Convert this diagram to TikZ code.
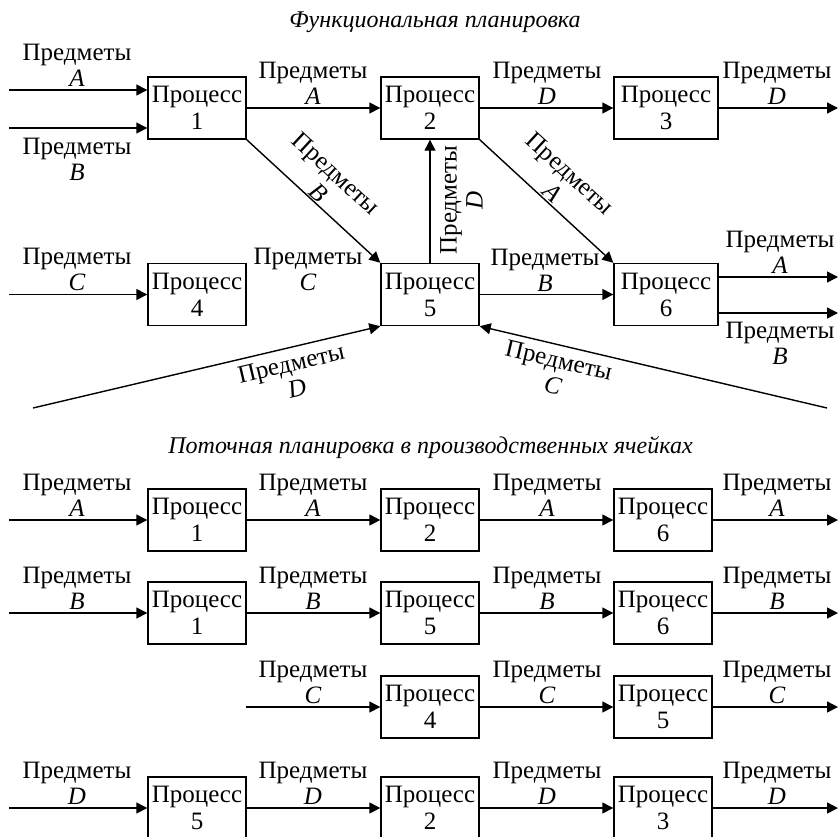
\documentclass[tikz,border=0pt]{standalone}
\usepackage{fontspec}
\setmainfont{Liberation Serif}
\usetikzlibrary{arrows.meta}
\begin{document}
\begin{tikzpicture}[x=1pt,y=-1pt,
  box/.style={draw, line width=1.4pt, minimum width=98pt, minimum height=62pt, inner sep=0pt, align=center, font=\fontsize{25}{27}\selectfont},
  wbox/.style={box, minimum width=104pt},
  lbl/.style={align=center, inner sep=0pt, font=\fontsize{25}{26}\selectfont},
  arr/.style={line width=1.4pt, -{Triangle[length=11pt,width=11pt]}},
  ttl/.style={font=\fontsize{24}{26}\selectfont\itshape, inner sep=0pt}]
\useasboundingbox (0,0) rectangle (840,836);
% titles
\node[ttl] (t1) at (435,22) {Функциональная планировка};
\node[ttl] (t2) at (430.5,448) {Поточная планировка в производственных ячейках};
% ---- functional layout
\node[box] (a1) at (197,108) {Процесс\\1};
\node[box] (a2) at (430,108) {Процесс\\2};
\node[wbox] (a3) at (666,108) {Процесс\\3};
\node[box] (a4) at (197,294.5) {Процесс\\4};
\node[box] (a5) at (430,294.5) {Процесс\\5};
\node[wbox] (a6) at (666,294.5) {Процесс\\6};
\coordinate (inA) at (9,90);
\coordinate (inB) at (9,128);
\coordinate (inC) at (9,294.5);
\coordinate (out3) at (838,108);
\coordinate (out6a) at (838,277);
\coordinate (out6b) at (838,313);
\coordinate (dstart) at (33,408);
\coordinate (cstart) at (827,408);
\draw[arr] (inA) -- (inA -| a1.west);
\draw[arr] (inB) -- (inB -| a1.west);
\draw[arr] (inC) -- (a4.west);
\draw[arr] (a1.east) -- (a2.west);
\draw[arr] (a2.east) -- (a3.west);
\draw[arr] (a3.east) -- (out3);
\draw[arr] (a1.south east) -- (a5.north west);
\draw[arr] (a2.south east) -- (a6.north west);
\draw[arr] (a5.north) -- (a2.south);
\draw[arr] (a5.east) -- (a6.west);
\draw[arr] (out6a -| a6.east) -- (out6a);
\draw[arr] (out6b -| a6.east) -- (out6b);
\draw[arr] (dstart) -- (a5.south west);
\draw[arr] (cstart) -- (a5.south east);
\node[lbl, anchor=south] (lA1) at (77,87) {Предметы\\\textit{A}};
\node[lbl, anchor=north] (lB1) at (77,138) {Предметы\\\textit{B}};
\node[lbl, anchor=south] (l12) at (313,105) {Предметы\\\textit{A}};
\node[lbl, anchor=south] (l23) at (547,105) {Предметы\\\textit{D}};
\node[lbl, anchor=south] (l3o) at (777,105) {Предметы\\\textit{D}};
\node[lbl, anchor=south] (lC4) at (77,291) {Предметы\\\textit{C}};
\node[lbl, anchor=south] (lC45) at (308,291) {Предметы\\\textit{C}};
\node[lbl, anchor=south] (l56) at (545,292) {Предметы\\\textit{B}};
\node[lbl, anchor=south] (l6A) at (780,274) {Предметы\\\textit{A}};
\node[lbl, anchor=north] (l6B) at (780,322) {Предметы\\\textit{B}};
\node[lbl, rotate=-42.8] (l15) at (327.5,183) {Предметы\\\textit{B}};
\node[lbl, rotate=-42.4] (l26) at (561.5,183) {Предметы\\\textit{A}};
\node[lbl, rotate=90] (l52) at (461.5,200) {Предметы\\\textit{D}};
\node[lbl, rotate=13.3] (lD5) at (294,376) {Предметы\\\textit{D}};
\node[lbl, rotate=-13.2] (lC5) at (556,373) {Предметы\\\textit{C}};
% ---- cellular layout
\node[box] (b11) at (197,520) {Процесс\\1};
\node[box] (b12) at (430,520) {Процесс\\2};
\node[box] (b13) at (663,520) {Процесс\\6};
\node[box] (b21) at (197,613) {Процесс\\1};
\node[box] (b22) at (430,613) {Процесс\\5};
\node[box] (b23) at (663,613) {Процесс\\6};
\node[box] (b32) at (430,707) {Процесс\\4};
\node[box] (b33) at (663,707) {Процесс\\5};
\node[box] (b41) at (197,808) {Процесс\\5};
\node[box] (b42) at (430,808) {Процесс\\2};
\node[box] (b43) at (663,808) {Процесс\\3};
\coordinate (r1in) at (9,520);
\coordinate (r2in) at (9,613);
\coordinate (r3in) at (246,707);
\coordinate (r4in) at (9,808);
\coordinate (r1out) at (838,520);
\coordinate (r2out) at (838,613);
\coordinate (r3out) at (838,707);
\coordinate (r4out) at (838,808);
\draw[arr] (r1in) -- (b11.west);
\draw[arr] (b11.east) -- (b12.west);
\draw[arr] (b12.east) -- (b13.west);
\draw[arr] (b13.east) -- (r1out);
\draw[arr] (r2in) -- (b21.west);
\draw[arr] (b21.east) -- (b22.west);
\draw[arr] (b22.east) -- (b23.west);
\draw[arr] (b23.east) -- (r2out);
\draw[arr] (r3in) -- (b32.west);
\draw[arr] (b32.east) -- (b33.west);
\draw[arr] (b33.east) -- (r3out);
\draw[arr] (r4in) -- (b41.west);
\draw[arr] (b41.east) -- (b42.west);
\draw[arr] (b42.east) -- (b43.west);
\draw[arr] (b43.east) -- (r4out);
\foreach \x/\n in {77/1,313/2,547/3,777/4}{
  \node[lbl, anchor=south] (m1\n) at (\x,517) {Предметы\\\textit{A}};
  \node[lbl, anchor=south] (m2\n) at (\x,610) {Предметы\\\textit{B}};
  \node[lbl, anchor=south] (m4\n) at (\x,805) {Предметы\\\textit{D}};
}
\foreach \x/\n in {313/2,547/3,777/4}{
  \node[lbl, anchor=south] (m3\n) at (\x,704) {Предметы\\\textit{C}};
}
\end{tikzpicture}
\end{document}
